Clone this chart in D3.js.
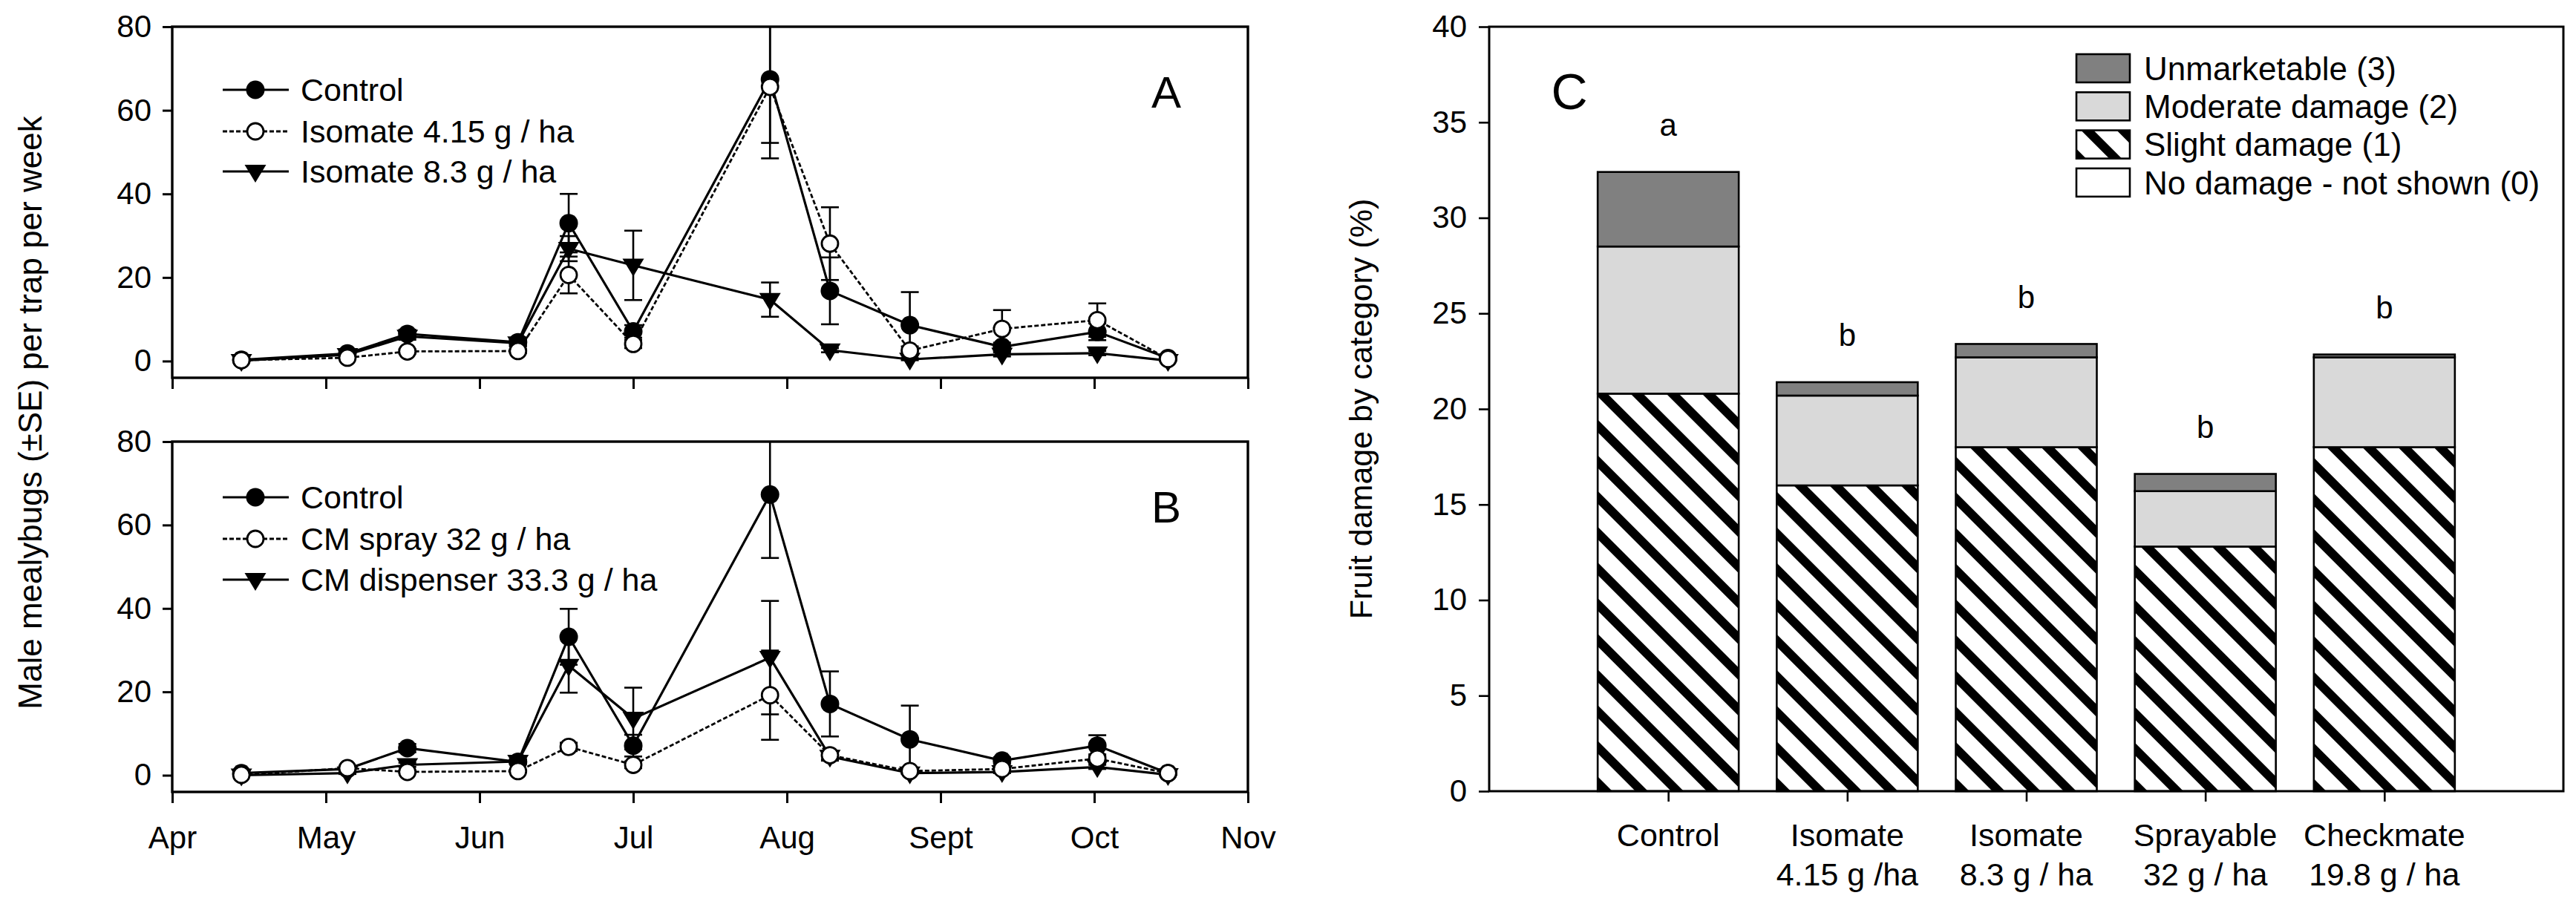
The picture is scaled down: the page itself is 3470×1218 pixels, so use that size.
<!DOCTYPE html>
<html>
<head>
<meta charset="utf-8">
<script src="https://cdn.jsdelivr.net/npm/d3@7"></script>
<style>
  body { margin: 0; background: #fff; }
  text { font-family: "Liberation Sans", Arial, sans-serif; fill: #000; }
</style>
</head>
<body>
<div id="vis"></div>
<script>
// sampling dates, in months after 1 April
var sampleMonths = [0.45, 1.14, 1.53, 2.25, 2.58, 3.0, 3.89, 4.28, 4.8, 5.4, 6.02, 6.48];
var monthLabels = ["Apr", "May", "Jun", "Jul", "Aug", "Sept", "Oct", "Nov"];
var countTicks = [0, 20, 40, 60, 80];

// panel A
var aControl   = [0.3, 1.8, 6.5, 4.5, 33.0, 7.1, 67.4, 16.8, 8.6, 3.4, 7.0, 0.7];
var aControlSE = [0.2, 0.5, 1.0, 0.8, 7.0, 1.5, 15.2, 8.0, 7.9, 1.0, 2.0, 0.3];
var aIso415    = [0.2, 0.8, 2.3, 2.4, 20.6, 4.1, 65.6, 28.1, 2.5, 7.7, 9.8, 0.5];
var aIso415SE  = [0.1, 0.3, 0.5, 0.5, 4.4, 1.0, 17.1, 8.7, 1.0, 4.5, 4.0, 0.2];
var aIso83     = [0.1, 1.5, 5.9, 4.3, 26.9, 22.9, 14.7, 2.6, 0.4, 1.6, 1.9, 0.1];
var aIso83SE   = [0.1, 0.3, 0.8, 0.8, 3.0, 8.3, 4.1, 0.5, 0.2, 0.5, 0.5, 0.1];

// panel B
var bControl   = [0.5, 1.5, 6.5, 3.2, 33.2, 7.1, 67.3, 17.1, 8.6, 3.5, 7.1, 0.5];
var bControlSE = [0.2, 0.4, 1.0, 0.5, 6.7, 2.6, 15.2, 7.8, 8.1, 0.8, 2.5, 0.3];
var bSpray     = [0.1, 1.7, 0.8, 1.0, 6.8, 2.5, 19.2, 4.8, 1.0, 1.5, 4.0, 0.5];
var bSpraySE   = [0.1, 0.4, 0.3, 0.3, 1.0, 0.8, 10.7, 1.0, 0.3, 0.5, 1.0, 0.2];
var bDisp      = [0.0, 0.5, 2.5, 3.3, 26.3, 13.6, 28.2, 4.5, 0.5, 0.8, 2.0, 0.1];
var bDispSE    = [0.1, 0.2, 0.5, 0.5, 6.5, 7.4, 13.6, 1.0, 0.2, 0.3, 0.5, 0.1];

// panel C
var treatments = ["Control", "Isomate 4.15", "Isomate 8.3", "Sprayable", "Checkmate"];
var treatmentLines = [["Control"], ["Isomate", "4.15 g /ha"], ["Isomate", "8.3 g / ha"],
                      ["Sprayable", "32 g / ha"], ["Checkmate", "19.8 g / ha"]];
var slightDamage   = [20.8, 16.0, 18.0, 12.8, 18.0];
var moderateDamage = [7.7, 4.7, 4.7, 2.9, 4.7];
var unmarketable   = [3.9, 0.7, 0.7, 0.9, 0.15];
var letters = ["a", "b", "b", "b", "b"];
var damageTicks = [0, 5, 10, 15, 20, 25, 30, 35, 40];
var damageKeys = ["slight", "moderate", "unmarketable"];
var damageLegend = ["Unmarketable (3)", "Moderate damage (2)", "Slight damage (1)", "No damage - not shown (0)"];

var W = 3470, H = 1218;

var svg = d3.select("#vis").append("svg")
  .attr("width", W)
  .attr("height", H);
svg.append("rect").attr("width", W).attr("height", H).attr("fill", "#fff");

var defs = svg.append("defs");
// diagonal hatch for slight damage
var hatch = defs.append("pattern")
  .attr("id", "hatch")
  .attr("patternUnits", "userSpaceOnUse")
  .attr("width", 34)
  .attr("height", 34)
  .attr("patternTransform", "rotate(45)");
hatch.append("rect").attr("width", 34).attr("height", 34).attr("fill", "#fff");
hatch.append("rect").attr("y", 0).attr("width", 34).attr("height", 12).attr("fill", "#000");

function drawMarker(g, type, cx, cy) {
  if (type === "filled") {
    g.append("circle").attr("cx", cx).attr("cy", cy).attr("r", 12.5)
      .attr("fill", "#000");
  } else if (type === "open") {
    g.append("circle").attr("cx", cx).attr("cy", cy).attr("r", 11)
      .attr("fill", "#fff").attr("stroke", "#000").attr("stroke-width", 2.8);
  } else {
    g.append("path")
      .attr("d", "M" + (cx - 14.5) + "," + (cy - 9) + "L" + (cx + 14.5) + "," + (cy - 9) + "L" + cx + "," + (cy + 15) + "Z")
      .attr("fill", "#000");
  }
}

function drawPanel(cfg) {
  var x = d3.scaleLinear().domain([0, 7]).range([232, 1681]);
  var y = d3.scaleLinear().domain([-4, 80]).range([cfg.bottom, cfg.top]);
  var g = svg.append("g");

  defs.append("clipPath").attr("id", cfg.id + "clip")
    .append("rect")
    .attr("x", x.range()[0]).attr("y", cfg.top)
    .attr("width", x.range()[1] - x.range()[0]).attr("height", cfg.bottom - cfg.top);

  // ticks
  var xa = g.append("g")
    .attr("transform", "translate(0," + cfg.bottom + ")")
    .call(d3.axisBottom(x).tickValues(d3.range(0, 8)).tickSize(15).tickPadding(31)
      .tickFormat(function(d) { return cfg.labels ? monthLabels[d] : ""; }));
  var ya = g.append("g")
    .attr("transform", "translate(232,0)")
    .call(d3.axisLeft(y).tickValues(countTicks).tickSize(13).tickPadding(15));
  [xa, ya].forEach(function(a) {
    a.select(".domain").remove();
    a.selectAll(".tick line").attr("stroke", "#000").attr("stroke-width", 3);
    a.selectAll(".tick text").style("font-size", "42px").attr("fill", "#000");
  });

  var plot = g.append("g").attr("clip-path", "url(#" + cfg.id + "clip)");
  var line = d3.line()
    .x(function(d, i) { return x(sampleMonths[i]); })
    .y(function(d) { return y(d); });

  // draw order: control, triangles, open circles on top
  var ordered = cfg.drawOrder.map(function(k) { return cfg.series[k]; });

  ordered.forEach(function(s) {
    var eb = plot.append("g").attr("stroke", "#000").attr("stroke-width", 2.6);
    s.values.forEach(function(v, i) {
      var cx = x(sampleMonths[i]);
      var lo = y(v - s.se[i]), hi = y(v + s.se[i]);
      eb.append("line").attr("x1", cx).attr("x2", cx).attr("y1", lo).attr("y2", hi);
      eb.append("line").attr("x1", cx - 12).attr("x2", cx + 12).attr("y1", lo).attr("y2", lo);
      eb.append("line").attr("x1", cx - 12).attr("x2", cx + 12).attr("y1", hi).attr("y2", hi);
    });
  });

  ordered.forEach(function(s) {
    plot.append("path")
      .datum(s.values)
      .attr("d", line)
      .attr("fill", "none")
      .attr("stroke", "#000")
      .attr("stroke-width", s.dashed ? 2.8 : 3.2)
      .attr("stroke-dasharray", s.dashed ? "6,3" : null);
  });

  ordered.forEach(function(s) {
    s.values.forEach(function(v, i) {
      drawMarker(plot, s.marker, x(sampleMonths[i]), y(v));
    });
  });

  // frame
  g.append("rect")
    .attr("x", 232).attr("y", cfg.top)
    .attr("width", 1681 - 232).attr("height", cfg.bottom - cfg.top)
    .attr("fill", "none").attr("stroke", "#000").attr("stroke-width", 3.4);

  // legend
  cfg.series.forEach(function(s, i) {
    var ly = cfg.legendY[i];
    g.append("line")
      .attr("x1", 300).attr("x2", 389).attr("y1", ly).attr("y2", ly)
      .attr("stroke", "#000")
      .attr("stroke-width", s.dashed ? 2.8 : 3.2)
      .attr("stroke-dasharray", s.dashed ? "6,3" : null);
    drawMarker(g, s.marker, 344, ly);
    g.append("text")
      .attr("x", 405).attr("y", ly).attr("dy", "0.36em")
      .style("font-size", "43px")
      .text(s.name);
  });

  g.append("text")
    .attr("x", 1571).attr("y", cfg.letterY)
    .attr("text-anchor", "middle")
    .style("font-size", "60px")
    .text(cfg.letter);
}

drawPanel({
  id: "A", top: 36, bottom: 509, labels: false, letter: "A", letterY: 145,
  legendY: [121, 177, 231],
  drawOrder: [0, 2, 1],
  series: [
    {name: "Control", values: aControl, se: aControlSE, marker: "filled", dashed: false},
    {name: "Isomate 4.15 g / ha", values: aIso415, se: aIso415SE, marker: "open", dashed: true},
    {name: "Isomate 8.3 g / ha", values: aIso83, se: aIso83SE, marker: "triangle", dashed: false}
  ]
});

drawPanel({
  id: "B", top: 595, bottom: 1067, labels: true, letter: "B", letterY: 704,
  legendY: [670, 726, 781],
  drawOrder: [0, 2, 1],
  series: [
    {name: "Control", values: bControl, se: bControlSE, marker: "filled", dashed: false},
    {name: "CM spray 32 g / ha", values: bSpray, se: bSpraySE, marker: "open", dashed: true},
    {name: "CM dispenser 33.3 g / ha", values: bDisp, se: bDispSE, marker: "triangle", dashed: false}
  ]
});

// shared y label for A and B
svg.append("text")
  .attr("transform", "translate(40,556) rotate(-90)")
  .attr("text-anchor", "middle")
  .attr("dy", "0.36em")
  .style("font-size", "44px")
  .text("Male mealybugs (\u00B1SE) per trap per week");

// panel C
(function() {
  var left = 2006, right = 3453, top = 36, bottom = 1066;
  var x = d3.scalePoint().domain(treatments).range([left, right]).padding(1);
  var y = d3.scaleLinear().domain([0, 40]).range([bottom, top]);
  var barW = 190;
  var g = svg.append("g");

  var rows = treatments.map(function(t, i) {
    return {treatment: t, slight: slightDamage[i], moderate: moderateDamage[i], unmarketable: unmarketable[i]};
  });
  var stacked = d3.stack().keys(damageKeys)(rows);
  var fills = {slight: "url(#hatch)", moderate: "#d9d9d9", unmarketable: "#808080"};

  stacked.forEach(function(layer) {
    g.append("g").selectAll("rect")
      .data(layer)
      .join("rect")
      .attr("x", function(d) { return x(d.data.treatment) - barW / 2; })
      .attr("y", function(d) { return y(d[1]); })
      .attr("width", barW)
      .attr("height", function(d) { return y(d[0]) - y(d[1]); })
      .attr("fill", fills[layer.key])
      .attr("stroke", "#000")
      .attr("stroke-width", 2.6);
  });

  // significance letters
  g.selectAll(".letter")
    .data(rows)
    .join("text")
    .attr("x", function(d) { return x(d.treatment); })
    .attr("y", function(d) { return y(d.slight + d.moderate + d.unmarketable + 1.9); })
    .attr("text-anchor", "middle")
    .style("font-size", "42px")
    .text(function(d, i) { return letters[i]; });

  var ya = g.append("g")
    .attr("transform", "translate(" + left + ",0)")
    .call(d3.axisLeft(y).tickValues(damageTicks).tickSize(14).tickPadding(16));
  var xa = g.append("g")
    .attr("transform", "translate(0," + bottom + ")")
    .call(d3.axisBottom(x).tickSize(14).tickFormat(""));
  [xa, ya].forEach(function(a) {
    a.select(".domain").remove();
    a.selectAll(".tick line").attr("stroke", "#000").attr("stroke-width", 2.6);
    a.selectAll(".tick text").style("font-size", "42px").attr("fill", "#000");
  });

  treatmentLines.forEach(function(lines, i) {
    lines.forEach(function(l, j) {
      g.append("text")
        .attr("x", x(treatments[i]))
        .attr("y", 1125 + j * 53)
        .attr("dy", "0.36em")
        .attr("text-anchor", "middle")
        .style("font-size", "43px")
        .text(l);
    });
  });

  g.append("rect")
    .attr("x", left).attr("y", top)
    .attr("width", right - left).attr("height", bottom - top)
    .attr("fill", "none").attr("stroke", "#000").attr("stroke-width", 3);

  // legend
  var legendFills = ["#808080", "#d9d9d9", "url(#hatch)", "#fff"];
  damageLegend.forEach(function(name, i) {
    var ly = 92 + i * 51.3;
    g.append("rect")
      .attr("x", 2797).attr("y", ly - 19)
      .attr("width", 72).attr("height", 38)
      .attr("fill", legendFills[i])
      .attr("stroke", "#000").attr("stroke-width", 2.6);
    g.append("text")
      .attr("x", 2888).attr("y", ly).attr("dy", "0.36em")
      .style("font-size", "44px")
      .text(name);
  });

  g.append("text")
    .attr("x", 2114).attr("y", 147)
    .attr("text-anchor", "middle")
    .style("font-size", "68px")
    .text("C");

  svg.append("text")
    .attr("transform", "translate(1833,551) rotate(-90)")
    .attr("text-anchor", "middle")
    .attr("dy", "0.36em")
    .style("font-size", "43px")
    .text("Fruit damage by category (%)");
})();
</script>
</body>
</html>
